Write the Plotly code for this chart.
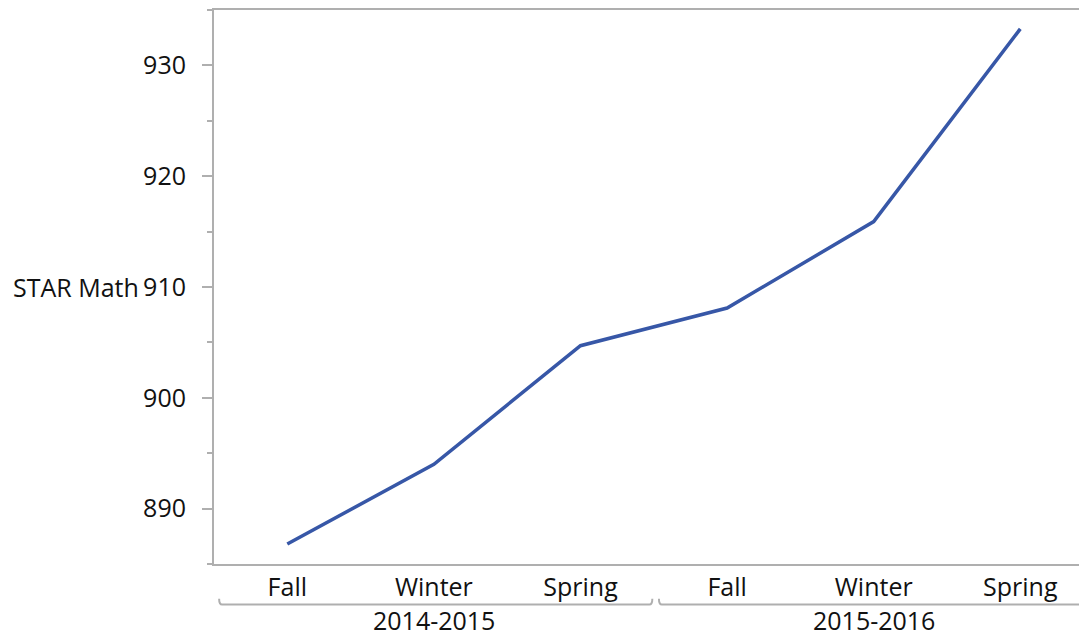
import plotly.graph_objects as go

years = ["2014-2015", "2014-2015", "2014-2015", "2015-2016", "2015-2016", "2015-2016"]
seasons = ["Fall", "Winter", "Spring", "Fall", "Winter", "Spring"]
star_math = [886.8, 894.0, 904.7, 908.1, 915.9, 933.3]

FONT = "Open Sans"
AXIS_GREY = "#AFAFAF"
LINE_BLUE = "#3757A7"

xs = list(range(len(seasons)))

fig = go.Figure(
    go.Scatter(
        x=xs,
        y=star_math,
        mode="lines",
        line=dict(color=LINE_BLUE, width=3.5),
        hovertemplate="%{text}: %{y}<extra></extra>",
        text=[f"{y} {s}" for y, s in zip(years, seasons)],
    )
)

# page body adds 8px on the left/top
fig.update_layout(
    width=1079,
    height=630,
    margin=dict(l=206, r=0, t=0, b=74),
    plot_bgcolor="white",
    paper_bgcolor="white",
    showlegend=False,
    font=dict(family=FONT, size=25, color="#111111"),
)

fig.update_xaxes(
    range=[-0.5, 5.455],
    tickvals=xs,
    ticktext=seasons,
    showgrid=False,
    zeroline=False,
    showline=True,
    linecolor=AXIS_GREY,
    linewidth=2,
    mirror=True,
    ticks="",
)

fig.update_yaxes(
    range=[885, 935],
    dtick=10,
    showgrid=False,
    zeroline=False,
    showline=True,
    linecolor=AXIS_GREY,
    linewidth=2,
    ticks="outside",
    ticklen=10,
    tickwidth=2,
    tickcolor=AXIS_GREY,
    ticklabelstandoff=11,
    minor=dict(dtick=5, ticks="outside", ticklen=5, tickwidth=2, tickcolor=AXIS_GREY),
)

# axis title written horizontally, left of the tick labels
fig.add_annotation(
    text="STAR Math",
    xref="paper", yref="paper",
    x=-0.084, y=0.5,
    xanchor="right", yanchor="middle",
    showarrow=False,
)

# group labels with brackets under the season labels
groups = []
for i, y in enumerate(years):
    if groups and groups[-1][0] == y:
        groups[-1][2] = i
    else:
        groups.append([y, i, i])

for name, first, last in groups:
    x0, x1 = first - 0.465, last + 0.49
    yb, yt = -0.073, -0.0625
    d = 0.02
    fig.add_shape(
        type="path",
        xref="x", yref="paper",
        path=f"M {x0},{yt} Q {x0},{yb} {x0 + d},{yb} L {x1 - d},{yb} Q {x1},{yb} {x1},{yt}",
        line=dict(color=AXIS_GREY, width=2),
    )
    fig.add_annotation(
        text=name,
        xref="x", yref="paper",
        x=(first + last) / 2, y=-0.101,
        xanchor="center", yanchor="middle",
        borderpad=0,
        showarrow=False,
    )

fig.write_html("out.html")
